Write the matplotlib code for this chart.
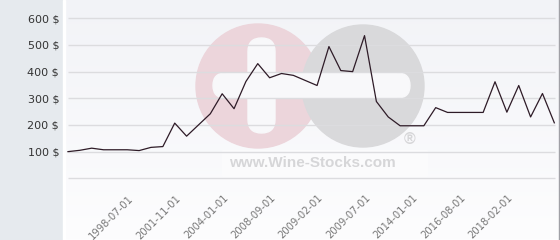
import matplotlib
matplotlib.use("Agg")
import matplotlib.pyplot as plt
import numpy as np
from matplotlib.patches import Circle, FancyBboxPatch, Rectangle

# prices, one point per observation (category axis)
prices = [100, 105, 113, 107, 107, 107, 104, 116, 119, 207,
          158, 200, 242, 317, 261, 363, 430, 377, 393, 386,
          367, 348, 494, 404, 400, 535, 288, 230, 197, 197,
          197, 265, 247, 247, 247, 247, 362, 248, 348, 230,
          318, 208]
tick_idx = [6, 10, 14, 18, 22, 26, 30, 34, 38]
tick_dates = ['1998-07-01', '2001-11-01', '2004-01-01', '2008-09-01', '2009-02-01',
              '2009-07-01', '2014-01-01', '2016-08-01', '2018-02-01']
y_ticks = [100, 200, 300, 400, 500, 600]

fig = plt.figure(figsize=(5.6, 2.4), dpi=100)

# background in pixel coords
bg = fig.add_axes([0, 0, 1, 1])
bg.set_xlim(0, 560)
bg.set_ylim(240, 0)
bg.axis('off')
grad = np.linspace(0, 1, 240)[:, None]
top = np.array([242, 243, 247]) / 255
bot = np.array([253, 253, 254]) / 255
img = top + (bot - top) * grad[..., None]
img = np.repeat(img, 2, axis=1)
bg.imshow(img, extent=(63, 560, 240, 0), aspect='auto', zorder=0)
bg.add_patch(Rectangle((0, 0), 63, 240, color='#e6eaee', zorder=1))
bg.add_patch(Rectangle((63, 0), 2, 240, color='white', zorder=1))
bg.plot([558.5, 558.5], [0, 240], color='#a0a0a6', lw=1, zorder=2)

# watermark
bg.add_patch(Circle((258, 86), 62, color='#ecd5db', zorder=2))
bg.add_patch(Circle((363, 86), 61, color='#d9d9db', zorder=2))
bg.add_patch(FancyBboxPatch((213, 73), 197, 25, boxstyle='round,pad=0,rounding_size=12.5',
                            color='#f8f8fa', zorder=3))
bg.add_patch(FancyBboxPatch((248, 38), 27, 95, boxstyle='round,pad=0,rounding_size=13.5',
                            color='#f8f8fa', zorder=3))
bg.add_patch(Rectangle((222, 150), 205, 26, color='#fbfbfc', zorder=2))
bg.text(312, 163, 'www.Wine-Stocks.com', family='Liberation Sans', weight='bold',
        fontsize=11, color='#d6d6d8', ha='center', va='center', zorder=3)
bg.text(410, 140, '®', family='Liberation Sans', weight='bold',
        fontsize=11.5, color='#d6d6d8', ha='center', va='center', zorder=3)

ax = fig.add_axes([65 / 560, 55 / 240, 493 / 560, 185 / 240])
ax.patch.set_alpha(0)
x = np.arange(len(prices))
ax.set_xlim(-0.25, len(prices) - 1 + 0.31)
ax.set_ylim(-25.1, 668.6)
ax.hlines([0] + y_ticks, 0, len(prices) - 1 + 0.06, color='#dcdcdf', lw=1, zorder=1)
ax.plot(x, prices, color='#2e1b27', lw=0.9, zorder=3)

ax.set_yticks(y_ticks)
ax.set_yticklabels(['%d $' % v for v in y_ticks], fontsize=8, color='#333333')
ax.tick_params(axis='y', length=0, pad=4.3)
ax.set_xticks([])
for s in ax.spines.values():
    s.set_visible(False)

for i, lab in zip(tick_idx, tick_dates):
    ax.text(i - 0.34, -55, lab, rotation=45, ha='right', va='top', fontsize=7.2,
            color='#777777', clip_on=False)

fig.savefig('out.png', dpi=100)
